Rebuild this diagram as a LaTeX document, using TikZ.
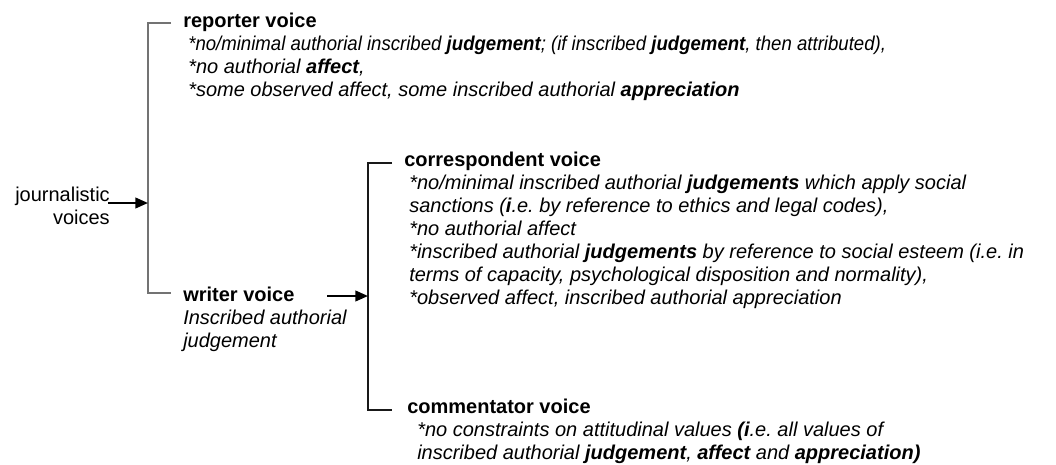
\documentclass[tikz,border=0pt]{standalone}
\usepackage{fontspec}
\usepackage{graphicx}
\setmainfont{Liberation Sans}
\usetikzlibrary{arrows.meta}
\frenchspacing

\begin{document}
\begin{tikzpicture}[
    x=0.75pt, y=-0.75pt,
    head/.style={font=\fontsize{15}{17.25}\selectfont\bfseries, anchor=base west, inner sep=0pt},
    body/.style={font=\fontsize{15}{17.25}\selectfont\itshape, anchor=base west, inner sep=0pt, align=left},
    plain/.style={font=\fontsize{15}{17.25}\selectfont, inner sep=0pt, align=right},
    bracket/.style={line width=0.8pt},
    pointer/.style={line width=1.5pt, -{Triangle[length=9.5pt,width=8pt]}}
    ]
    \useasboundingbox (0,0) rectangle (1056,464);

    % left part (base anchor of a multi-line node = last line)
    \node[plain, anchor=base east] (jv) at (110,224) {journalistic\\voices};
    \coordinate (btop) at (148,23);
    \coordinate (bbot) at (148,293);
    \coordinate (bmid) at (148,203);
    \coordinate (jstart) at (108,203);
    \coordinate (rend) at (171,23);
    \coordinate (wend) at (171,293);
    \draw[bracket, black!55] (rend) -- (btop) -- (bbot) -- (wend);
    \draw[pointer] (jstart) -- (bmid);

    % reporter voice
    \node[head] (rep) at (183,27) {reporter voice};
    \node[body] (repb) at (188,96) {\scalebox{0.93}[1]{*no/minimal authorial inscribed \textbf{judgement}; (if inscribed \textbf{judgement}, then attributed),}\\
        *no authorial \textbf{affect},\\
        *some observed affect, some inscribed authorial \textbf{appreciation}};

    % writer voice
    \node[head] (wri) at (183,301) {writer voice};
    \node[body] (wrib) at (183,347) {Inscribed authorial\\judgement};

    % right part
    \coordinate (ctop) at (368,163);
    \coordinate (cbot) at (368,410);
    \coordinate (cmid) at (368,296);
    \coordinate (wstart) at (327,296);
    \coordinate (cend) at (392,163);
    \coordinate (mend) at (392,410);
    \draw[bracket, black!90] (cend) -- (ctop) -- (cbot) -- (mend);
    \draw[pointer] (wstart) -- (cmid);

    % correspondent voice
    \node[head] (cor) at (404,166) {correspondent voice};
    \node[body] (corb) at (409,304) {*no/minimal inscribed authorial \textbf{judgements} which apply social\\
        sanctions (\textbf{i}.e. by reference to ethics and legal codes),\\
        *no authorial affect\\
        *inscribed authorial \textbf{judgements} by reference to social esteem (i.e. in\\
        terms of capacity, psychological disposition and normality),\\
        *observed affect, inscribed authorial appreciation};

    % commentator voice
    \node[head] (com) at (407,413) {commentator voice};
    \node[body] (comb) at (417,459) {*no constraints on attitudinal values \textbf{(i}.e. all values of\\
        inscribed authorial \textbf{judgement}, \textbf{affect} and \textbf{appreciation)}};

\end{tikzpicture}
\end{document}
